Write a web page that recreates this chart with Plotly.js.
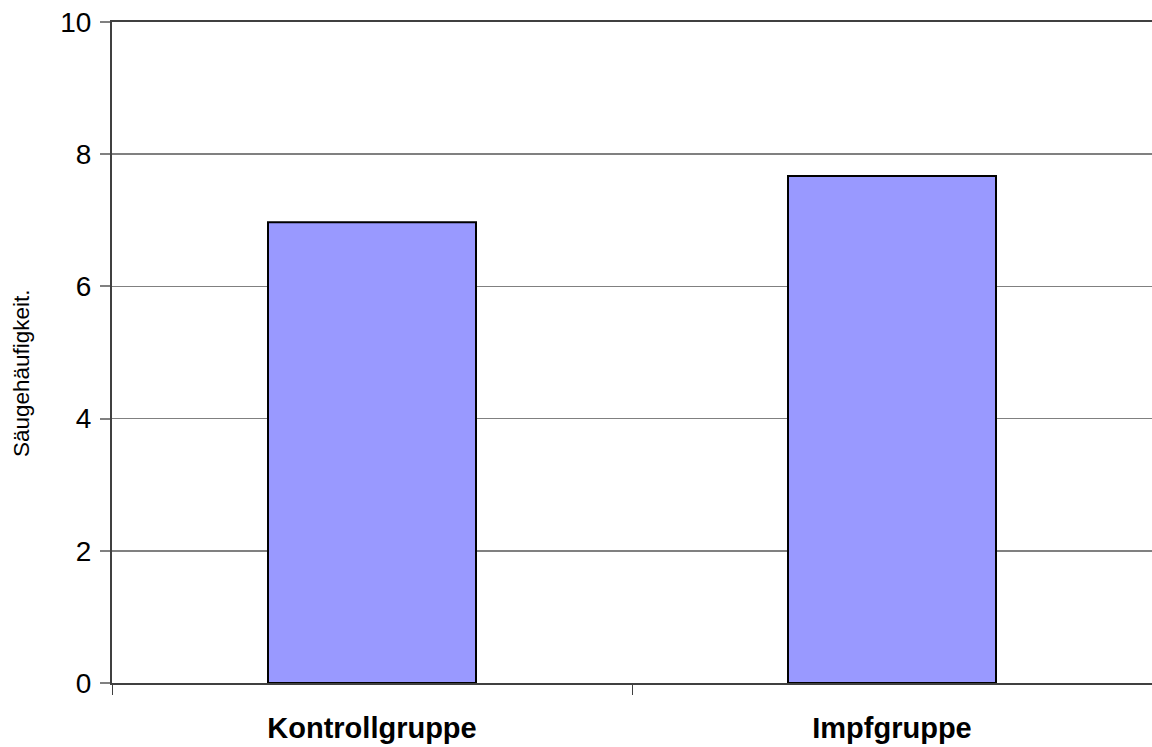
<!DOCTYPE html>
<html>
<head>
<meta charset="utf-8">
<script src="https://cdn.plot.ly/plotly-3.0.1.min.js"></script>
<style>html,body{margin:0;padding:0;background:#fff;}#chart{width:1152px;height:747px;}</style>
</head>
<body>
<div id="chart"></div>
<script>
const categories = ["Kontrollgruppe", "Impfgruppe"];
const values = [6.97, 7.67];
const yTickVals = [0, 2, 4, 6, 8, 10];
const yTitle = "Säugehäufigkeit.";

const trace = {
  type: "bar",
  x: categories,
  y: values,
  width: 0.4,
  marker: {color: "#9999FF", line: {color: "#000000", width: 2}},
  hoverinfo: "x+y"
};

const layout = {
  width: 1152, height: 747,
  margin: {l: 112, r: 0, t: 22, b: 64},
  paper_bgcolor: "#ffffff",
  plot_bgcolor: "#ffffff",
  showlegend: false,
  font: {family: "Liberation Sans, Arial, sans-serif", color: "#000"},
  xaxis: {
    type: "category",
    range: [-0.5, 1.5],
    showline: true, linecolor: "#404040", linewidth: 2, mirror: true,
    ticks: "outside", tickson: "boundaries", ticklen: 10, tickcolor: "#404040", tickwidth: 1,
    showgrid: false,
    tickfont: {size: 29, family: "Liberation Sans, Arial, sans-serif", weight: "bold"},
    ticklabelstandoff: 18,
    fixedrange: true
  },
  yaxis: {
    range: [0, 10],
    tickvals: yTickVals,
    showline: true, linecolor: "#404040", linewidth: 2,
    ticks: "outside", ticklen: 10, tickcolor: "#808080", tickwidth: 2,
    showgrid: true, gridcolor: "#808080", gridwidth: 1.5,
    zeroline: false,
    tickfont: {size: 28},
    ticklabelstandoff: 3,
    fixedrange: true
  },
  annotations: [{
    text: yTitle,
    xref: "paper", yref: "paper",
    x: -0.0865, y: 0.469,
    xanchor: "center", yanchor: "middle",
    textangle: -90,
    showarrow: false,
    font: {size: 22.5, family: "Liberation Sans, Arial, sans-serif"}
  }]
};

Plotly.newPlot("chart", [trace], layout, {displayModeBar: false, staticPlot: true});
</script>
</body>
</html>
